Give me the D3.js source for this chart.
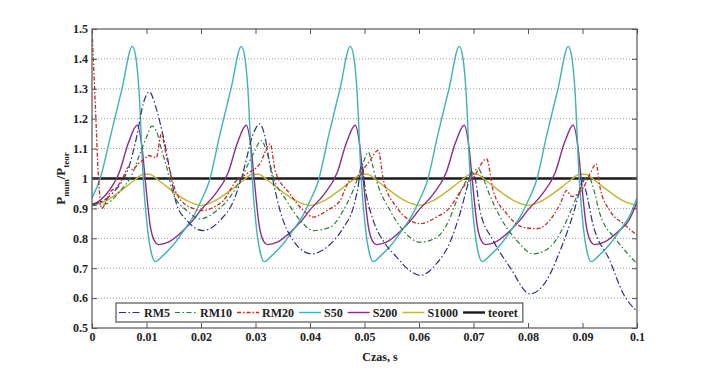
<!DOCTYPE html>
<html>
<head>
<meta charset="utf-8">
<script src="https://cdn.jsdelivr.net/npm/d3@7"></script>
<style>
  body { margin: 0; background: #fff; }
  text { font-family: "Liberation Serif", "Times New Roman", serif; font-weight: bold; fill: #222; }
</style>
</head>
<body>
<svg id="chart" width="703" height="369"></svg>
<script>
// ---- data ----
var xTicks = [0, 0.01, 0.02, 0.03, 0.04, 0.05, 0.06, 0.07, 0.08, 0.09, 0.1];
var xTickLabels = ["0", "0.01", "0.02", "0.03", "0.04", "0.05", "0.06", "0.07", "0.08", "0.09", "0.1"];
var yTicks = [0.5, 0.6, 0.7, 0.8, 0.9, 1.0, 1.1, 1.2, 1.3, 1.4, 1.5];
var yTickLabels = ["0.5", "0.6", "0.7", "0.8", "0.9", "1", "1.1", "1.2", "1.3", "1.4", "1.5"];
var seriesNames = ["RM5", "RM10", "RM20", "S50", "S200", "S1000", "teoret"];

var rm5T = [0, .002, .004, .0055, .0067, .0082, .0094, .0105, .0119, .0131, .0143, .0155, .0174, .0204,
  .0235, .026, .0278, .0296, .0308, .0316, .0327, .0345, .0369, .0403, .0434, .0461, .0479, .0488, .0495,
  .0501, .0516, .0535, .0559, .0583, .0602, .0632, .0657, .0675, .069, .0697, .0703, .0712, .0736, .0767,
  .0804, .0834, .0859, .0883, .0895, .09, .0906, .0919, .095, .0975, .1];
var rm5V = [.915, .925, .955, .99, 1.035, 1.14, 1.25, 1.29, 1.227, 1.138, 1.027, .915, .86, .826,
  .86, .926, 1.027, 1.15, 1.183, 1.15, 1.04, .893, .793, .748, .775, .835, .90, .97, 1.05,
  .97, .86, .79, .737, .692, .676, .715, .787, .882, .982, 1.025, 1.0, .893, .793, .703,
  .614, .659, .759, .882, .96, .993, .96, .848, .726, .614, .556];

var rm10T = [0, .0025, .005, .0075, .0088, .01, .011, .0118, .0128, .0137, .0149, .0174, .0198, .0229,
  .0253, .0278, .0296, .0311, .0322, .0333, .0357, .0382, .0406, .0437, .0461, .0479, .0495, .0507, .0514,
  .0522, .0547, .0571, .0602, .063, .0655, .0669, .0687, .0709, .0716, .0724, .0749, .0779, .081, .084,
  .0865, .0889, .0905, .0911, .0918, .0932, .0963, .1];
var rm10V = [.91, .915, .955, 1.02, 1.083, 1.138, 1.175, 1.16, 1.094, 1.038, .949, .893, .865, .893,
  .937, 1.016, 1.083, 1.127, 1.08, 1.004, .926, .86, .826, .837, .893, .96, 1.038, 1.088, 1.05,
  .993, .893, .826, .787, .80, .86, .926, .993, 1.032, 1.01, .971, .871, .793, .748, .77,
  .837, .937, 1.0, 1.01, .98, .882, .793, .715];

var rm20T = [0, .0006, .0012, .0018, .0025, .0033, .0045, .0057, .0067, .0075, .0085, .0097, .0103, .0118,
  .0127, .0137, .0146, .0155, .018, .0204, .0223, .0241, .0265, .0284, .0308, .0327, .0336, .0363, .0388,
  .0406, .0431, .0455, .0473, .0489, .0501, .051, .0525, .0535, .0559, .0583, .0602, .0632, .0657, .0669,
  .0681, .07, .0724, .0736, .0761, .0791, .0816, .084, .0859, .0871, .088, .0902, .0914, .0925, .0932,
  .095, .0975, .1];
var rm20V = [1.5, 1.25, 1.0, .899, .92, .954, .97, 1.004, 1.038, 1.03, 1.05, 1.066, 1.077, 1.07,
  1.148, 1.071, 1.004, .95, .904, .893, .904, .926, .993, 1.016, 1.049, 1.116, 1.027, .949, .893,
  .871, .893, .926, .993, 1.004, 1.038, 1.06, 1.094, .993, .904, .86, .849, .871, .904, .937,
  .971, 1.004, 1.066, .96, .882, .837, .832, .86, .915, .96, .94, .971, 1.016, 1.049, .971,
  .893, .849, .81];

var s50T = [0, .0015, .0035, .0055, .0074, .008, .0086, .0094, .0102, .0109, .0116, .013, .015, .017, .0185,
  .02, .0215, .0235, .0255, .0274, .028, .0286, .0294, .0302, .0309, .0316, .033, .035, .037, .0385,
  .04, .0415, .0435, .0455, .0474, .048, .0486, .0494, .0502, .0509, .0516, .053, .055, .057, .0585,
  .06, .0615, .0635, .0655, .0674, .068, .0686, .0694, .0702, .0709, .0716, .073, .075, .077, .0785,
  .08, .0815, .0835, .0855, .0874, .088, .0886, .0894, .0902, .0909, .0916, .093, .095, .097, .0985, .1];
var s50V = [.935, 1.0, 1.15, 1.3, 1.442, 1.41, 1.3, 1.0, .83, .75, .722, .742, .78, .83, .87,
  .925, .99, 1.15, 1.3, 1.442, 1.41, 1.3, 1.0, .83, .75, .722, .742, .78, .83, .87,
  .925, .99, 1.15, 1.3, 1.442, 1.41, 1.3, 1.0, .83, .75, .722, .742, .78, .83, .87,
  .925, .99, 1.15, 1.3, 1.442, 1.41, 1.3, 1.0, .83, .75, .722, .742, .78, .83, .87,
  .925, .99, 1.15, 1.3, 1.442, 1.41, 1.3, 1.0, .83, .75, .722, .742, .78, .83, .87, .935];

var s200T = [0, .0025, .005, .0067, .0083, .0092, .0098, .0107, .0115, .0122, .014, .0165, .0185,
  .02, .0225, .025, .0267, .0283, .0292, .0298, .0307, .0315, .0322, .034, .0365, .0385,
  .04, .0425, .045, .0467, .0483, .0492, .0498, .0507, .0515, .0522, .054, .0565, .0585,
  .06, .0625, .065, .0667, .0683, .0692, .0698, .0707, .0715, .0722, .074, .0765, .0785,
  .08, .0825, .085, .0867, .0883, .0892, .0898, .0907, .0915, .0922, .094, .0965, .0985, .1];
var s200V = [.91, .945, 1.02, 1.12, 1.178, 1.10, .99, .84, .79, .779, .787, .822, .86,
  .895, .945, 1.02, 1.12, 1.178, 1.10, .99, .84, .79, .779, .787, .822, .86,
  .895, .945, 1.02, 1.12, 1.178, 1.10, .99, .84, .79, .779, .787, .822, .86,
  .895, .945, 1.02, 1.12, 1.178, 1.10, .99, .84, .79, .779, .787, .822, .86,
  .895, .945, 1.02, 1.12, 1.178, 1.10, .99, .84, .79, .779, .787, .822, .86, .92];

var s1000T = [0, .0025, .005, .0075, .0095, .0105, .0125, .015, .0175,
  .02, .0225, .025, .0275, .0295, .0305, .0325, .035, .0375,
  .04, .0425, .045, .0475, .0495, .0505, .0525, .055, .0575,
  .06, .0625, .065, .0675, .0695, .0705, .0725, .075, .0775,
  .08, .0825, .085, .0875, .0895, .0905, .0925, .095, .0975, .1];
var s1000V = [.91, .925, .955, .99, 1.014, 1.014, .99, .955, .925,
  .91, .925, .955, .99, 1.014, 1.014, .99, .955, .925,
  .91, .925, .955, .99, 1.014, 1.014, .99, .955, .925,
  .91, .925, .955, .99, 1.014, 1.014, .99, .955, .925,
  .91, .925, .955, .99, 1.014, 1.014, .99, .955, .925, .91];

var teoretT = [0, 0.1];
var teoretV = [1, 1];

// ---- layout ----
var svg = d3.select('#chart');
var plotLeft = 92, plotRight = 637, plotTop = 29, plotBottom = 328;

var x = d3.scaleLinear().domain([0, 0.1]).range([plotLeft, plotRight]);
var y = d3.scaleLinear().domain([0.5, 1.5]).range([plotBottom, plotTop]);

var series = [
  {name: "RM5", t: rm5T, v: rm5V, color: "#2b2f8a", width: 1.2, dash: "7,2.5,1.5,2.5"},
  {name: "RM10", t: rm10T, v: rm10V, color: "#2d7a3c", width: 1.2, dash: "5,2.5,1.5,2.5"},
  {name: "RM20", t: rm20T, v: rm20V, color: "#c9281f", width: 1.3, dash: "4,2,1.5,2"},
  {name: "S50", t: s50T, v: s50V, color: "#3fb3b5", width: 1.4, dash: null},
  {name: "S200", t: s200T, v: s200V, color: "#8b2c8c", width: 1.4, dash: null},
  {name: "S1000", t: s1000T, v: s1000V, color: "#c8b43a", width: 1.5, dash: null},
  {name: "teoret", t: teoretT, v: teoretV, color: "#1a1a1a", width: 2.4, dash: null}
];

svg.append('defs').append('clipPath').attr('id', 'plotclip')
  .append('rect')
  .attr('x', plotLeft).attr('y', plotTop)
  .attr('width', plotRight - plotLeft).attr('height', plotBottom - plotTop);

// grid (dotted, horizontal)
svg.append('g').attr('class', 'grid')
  .selectAll('line')
  .data(yTicks.slice(1, -1)).enter()
  .append('line')
  .attr('x1', plotLeft).attr('x2', plotRight)
  .attr('y1', function(d){ return y(d); })
  .attr('y2', function(d){ return y(d); })
  .style('stroke', '#9a9a9a')
  .style('stroke-width', '1px')
  .style('stroke-dasharray', '1,2');

// curves
var line = d3.line()
  .x(function(d){ return x(d[0]); })
  .y(function(d){ return y(d[1]); })
  .curve(d3.curveMonotoneX);

var plot = svg.append('g').attr('clip-path', 'url(#plotclip)');
var drawOrder = [6, 5, 4, 3, 0, 1, 2]; // black line first, dashed on top
drawOrder.forEach(function(i){
  var s = series[i];
  var pts = s.t.map(function(t, j){ return [t, s.v[j]]; });
  plot.append('path')
    .datum(pts)
    .attr('d', line)
    .style('fill', 'none')
    .style('stroke', s.color)
    .style('stroke-width', s.width + 'px')
    .style('stroke-dasharray', s.dash)
    .style('stroke-linejoin', 'round');
});

// axes
function styleAxis(g) {
  g.select('.domain').remove();
  g.selectAll('line').style('stroke', '#555');
  g.selectAll('text').style('font-size', '12px').style('font-family', '"Liberation Serif", serif')
    .style('font-weight', 'bold').style('fill', '#222');
}

svg.append('g').attr('transform', 'translate(0,' + plotBottom + ')')
  .call(d3.axisBottom(x).tickValues(xTicks).tickSizeInner(-5).tickSizeOuter(0).tickPadding(4)
    .tickFormat(function(d, i){ return xTickLabels[i]; }))
  .call(styleAxis);

svg.append('g').attr('transform', 'translate(0,' + plotTop + ')')
  .call(d3.axisTop(x).tickValues(xTicks).tickSizeInner(-5).tickSizeOuter(0).tickFormat(''))
  .call(styleAxis);

svg.append('g').attr('transform', 'translate(' + plotLeft + ',0)')
  .call(d3.axisLeft(y).tickValues(yTicks).tickSizeInner(-5).tickSizeOuter(0).tickPadding(4)
    .tickFormat(function(d, i){ return yTickLabels[i]; }))
  .call(styleAxis);

svg.append('g').attr('transform', 'translate(' + plotRight + ',0)')
  .call(d3.axisRight(y).tickValues(yTicks).tickSizeInner(-5).tickSizeOuter(0).tickFormat(''))
  .call(styleAxis);

// frame
svg.append('rect')
  .attr('x', plotLeft).attr('y', plotTop)
  .attr('width', plotRight - plotLeft).attr('height', plotBottom - plotTop)
  .style('fill', 'none').style('stroke', '#555').style('stroke-width', '1.2px');

// axis labels
svg.append('text')
  .attr('x', 380).attr('y', 361)
  .attr('text-anchor', 'middle')
  .style('font-size', '12px')
  .text('Czas, s');

var ylab = svg.append('text')
  .attr('transform', 'translate(65,' + ((plotTop + plotBottom) / 2) + ') rotate(-90)')
  .attr('text-anchor', 'middle')
  .style('font-size', '13px');
ylab.append('tspan').text('P');
ylab.append('tspan').attr('dy', 4).style('font-size', '9px').text('num');
ylab.append('tspan').attr('dy', -4).text('/P');
ylab.append('tspan').attr('dy', 4).style('font-size', '9px').text('teor');

// legend
var legend = svg.append('g').attr('class', 'legend');
var legBox = legend.append('rect')
  .attr('x', 116).attr('y', 303)
  .attr('height', 19)
  .style('fill', 'white').style('stroke', '#555').style('stroke-width', '1.2px');

var cx = 119, midY = 312.5;
series.forEach(function(s){
  legend.append('line')
    .attr('x1', cx).attr('x2', cx + 22)
    .attr('y1', midY).attr('y2', midY)
    .style('stroke', s.color)
    .style('stroke-width', (s.name === 'teoret' ? 2.4 : s.width) + 'px')
    .style('stroke-dasharray', s.dash);
  var t = legend.append('text')
    .attr('x', cx + 25).attr('y', midY + 4)
    .style('font-size', '12px')
    .text(s.name);
  cx = cx + 25 + t.node().getComputedTextLength() + 5;
});
legBox.attr('width', cx - 116);
</script>
</body>
</html>
